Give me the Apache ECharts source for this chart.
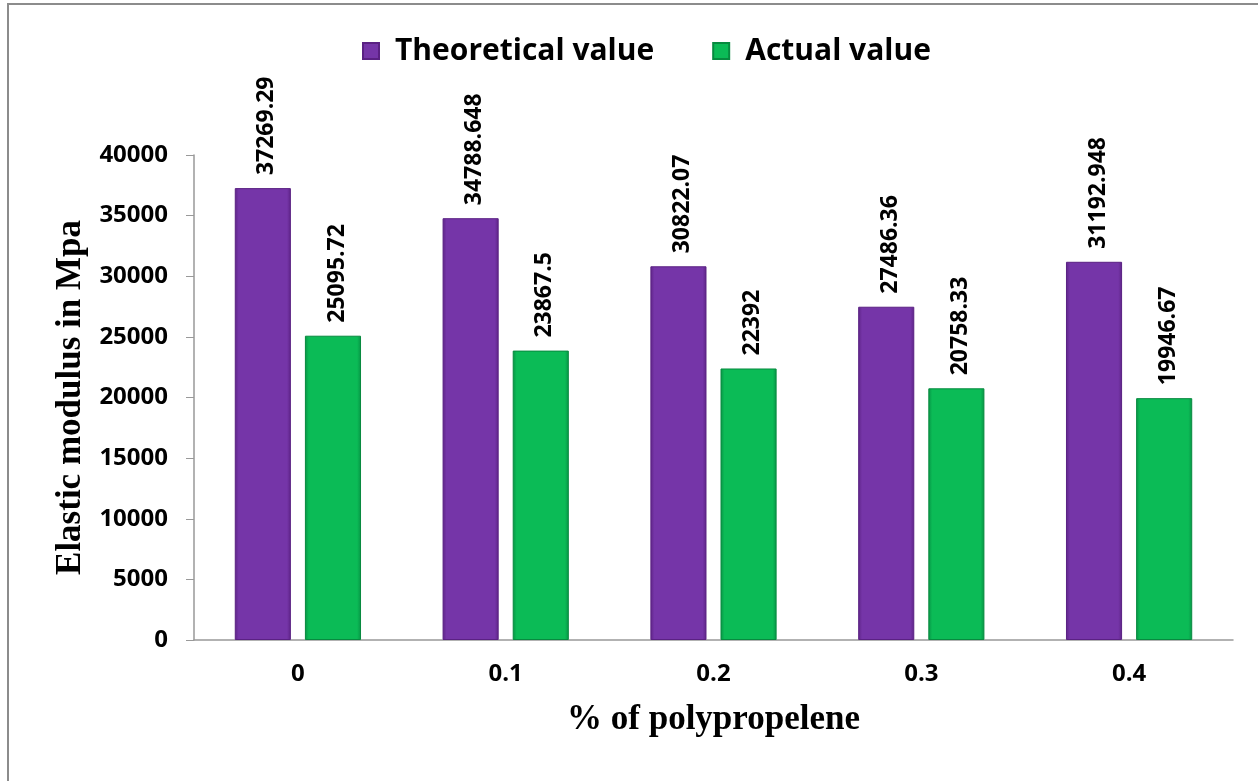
<!DOCTYPE html>
<html><head><meta charset="utf-8">
<script src="https://cdn.jsdelivr.net/npm/echarts@6/dist/echarts.min.js"></script>
<style>html,body{margin:0;padding:0;background:#fff;}#c{width:1258px;height:781px;}
#frame{position:absolute;left:7px;top:3px;width:1260px;height:790px;border-left:2px solid #8c8c8c;border-top:2px solid #8c8c8c;pointer-events:none;}</style>
</head><body><div id="c"></div><div id="frame"></div>
<script>
const categories = ['0', '0.1', '0.2', '0.3', '0.4'];
const theoretical = [37269.29, 34788.648, 30822.07, 27486.36, 31192.948];
const actual = [25095.72, 23867.5, 22392, 20758.33, 19946.67];
const yTicks = { min: 0, max: 40000, interval: 5000 };

const chart = echarts.init(document.getElementById('c'));
const lbl = {
  show: true, position: 'top', rotate: 90, align: 'left', verticalAlign: 'middle',
  distance: 13, offset: [0, 4],
  fontFamily: 'Open Sans', fontWeight: 'bold', fontSize: 23, color: '#000',
  formatter: p => String(p.value)
};
function grad(mid, edge) {
  return new echarts.graphic.LinearGradient(0, 0, 1, 0, [
    {offset: 0, color: edge}, {offset: 0.07, color: mid}, {offset: 0.93, color: mid}, {offset: 1, color: edge}
  ]);
}
chart.setOption({
  animation: false,
  legend: {
    top: 31, left: 357, itemWidth: 16, itemHeight: 16, itemGap: 58,
    textStyle: { fontFamily: 'Open Sans', fontWeight: 'bold', fontSize: 30, color: '#000', padding: [0, 0, 0, 11] },
    data: [{ name: 'Theoretical value', icon: 'rect' }, { name: 'Actual value', icon: 'rect' }]
  },
  grid: { left: 194, right: 25, top: 155, bottom: 141 },
  xAxis: {
    type: 'category', data: categories,
    name: '% of polypropelene', nameLocation: 'middle', nameGap: 62,
    nameTextStyle: { fontFamily: 'Liberation Serif', fontWeight: 'bold', fontSize: 35, color: '#000' },
    axisLine: { lineStyle: { color: '#999', width: 1.5 } },
    axisTick: { show: false },
    axisLabel: { margin: 22, fontFamily: 'Open Sans', fontWeight: 'bold', fontSize: 24, color: '#000' }
  },
  yAxis: {
    type: 'value', min: yTicks.min, max: yTicks.max, interval: yTicks.interval,
    name: 'Elastic modulus in Mpa', nameLocation: 'middle', nameGap: 98,
    nameTextStyle: { fontFamily: 'Liberation Serif', fontWeight: 'bold', fontSize: 35, color: '#000' },
    axisLine: { show: true, lineStyle: { color: '#999', width: 1.5 } },
    axisTick: { show: true, length: 8, lineStyle: { color: '#999' } },
    splitLine: { show: false },
    axisLabel: { margin: 26, fontFamily: 'Open Sans', fontWeight: 'bold', fontSize: 24, color: '#000',
      formatter: v => String(v) }
  },
  series: [
    { name: 'Theoretical value', type: 'bar', data: theoretical, barWidth: '27%', barGap: '25%',
      itemStyle: { color: grad('#7535a8', '#5e2487'), borderColor: '#5a2183', borderWidth: 1 },
      label: lbl },
    { name: 'Actual value', type: 'bar', data: actual, barWidth: '27%', barGap: '25%',
      itemStyle: { color: grad('#0bbb56', '#079445'), borderColor: '#078a3f', borderWidth: 1 },
      label: lbl }
  ]
});
</script></body></html>
